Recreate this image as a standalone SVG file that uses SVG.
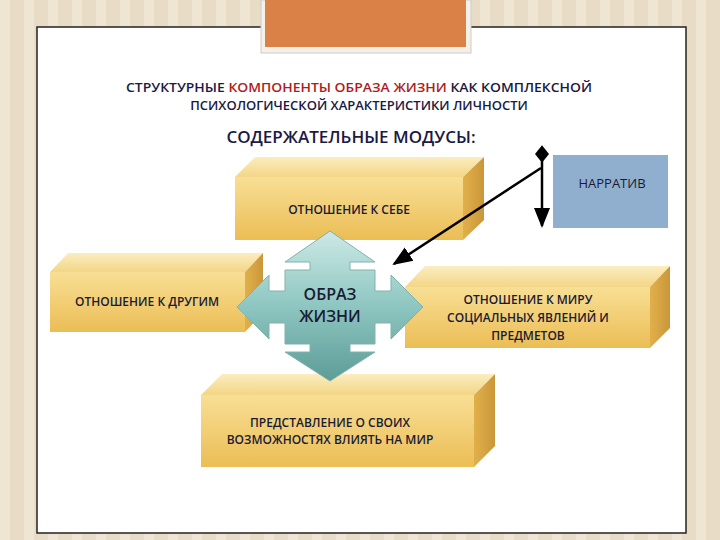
<svg xmlns="http://www.w3.org/2000/svg" width="720" height="540" viewBox="0 0 720 540">
<defs>
<pattern id="stripes" width="24" height="10" patternUnits="userSpaceOnUse"><rect width="24" height="10" fill="#e9dcc6"/><rect width="10" height="10" fill="#efe5d3"/></pattern>
<linearGradient id="front" x1="0" y1="0" x2="0" y2="1"><stop offset="0" stop-color="#f8df95"/><stop offset="1" stop-color="#ebbd55"/></linearGradient>
<linearGradient id="topf" x1="0" y1="0" x2="0" y2="1"><stop offset="0" stop-color="#fbedc0"/><stop offset="1" stop-color="#f3d685"/></linearGradient>
<linearGradient id="side" x1="0" y1="0" x2="1" y2="0"><stop offset="0" stop-color="#e2b04a"/><stop offset="1" stop-color="#c9973a"/></linearGradient>
<linearGradient id="teal" x1="0" y1="0" x2="0" y2="1"><stop offset="0" stop-color="#cde9e6"/><stop offset="0.5" stop-color="#8ec6c1"/><stop offset="1" stop-color="#5d9c97"/></linearGradient>
<marker id="ah" viewBox="0 0 10 10" refX="9" refY="5" markerWidth="8" markerHeight="8" orient="auto"><path d="M0,1 L10,5 L0,9 Z" fill="#000"/></marker>
<marker id="dm" viewBox="0 0 10 10" refX="5" refY="5" markerWidth="7" markerHeight="7" orient="auto"><path d="M0,5 L5,1 L10,5 L5,9 Z" fill="#000"/></marker>
<style>
.f{fill:url(#front)}.t{fill:url(#topf)}.s{fill:url(#side)}
.lb{font-family:"Open Sans","Noto Sans",sans-serif;font-weight:600;font-size:12px;fill:#1a1a33;text-anchor:middle}
</style>
</defs>
<rect width="720" height="540" fill="url(#stripes)"/>
<rect x="37" y="27" width="649" height="506" fill="#fff" stroke="#222" stroke-width="1.5"/>
<rect x="261" y="0" width="210" height="53" fill="#f4f0e6" stroke="#ccc"/>
<rect x="265" y="0" width="201" height="47" fill="#d98147"/>
<g id="title" font-family="'Open Sans','Noto Sans',sans-serif" font-weight="600" font-size="13" fill="#1a1a44" text-anchor="middle">
<text x="359" y="92" textLength="466" lengthAdjust="spacingAndGlyphs">СТРУКТУРНЫЕ <tspan fill="#b01c1c">КОМПОНЕНТЫ ОБРАЗА ЖИЗНИ</tspan> КАК КОМПЛЕКСНОЙ</text>
<text x="359" y="110">ПСИХОЛОГИЧЕСКОЙ ХАРАКТЕРИСТИКИ ЛИЧНОСТИ</text>
<text x="351" y="143" font-size="17">СОДЕРЖАТЕЛЬНЫЕ МОДУСЫ:</text>
</g>
<g id="self">
<polygon class="t" points="235,177 255,157 484,157 463,177"/>
<polygon class="s" points="463,177 484,157 484,220 463,240"/>
<rect class="f" x="235" y="177" width="228" height="63"/>
<text class="lb" x="349" y="214">ОТНОШЕНИЕ К СЕБЕ</text>
</g>
<g id="others">
<polygon class="t" points="50,272 68,253 263,253 245,272"/>
<polygon class="s" points="245,272 263,253 263,313 245,332"/>
<rect class="f" x="50" y="272" width="195" height="60"/>
<text class="lb" x="147" y="306">ОТНОШЕНИЕ К ДРУГИМ</text>
</g>
<g id="world">
<polygon class="t" points="405,287 425,266 670,266 650,287"/>
<polygon class="s" points="650,287 670,266 670,328 650,348"/>
<rect class="f" x="405" y="287" width="245" height="61"/>
<text class="lb" x="528" y="304">ОТНОШЕНИЕ К МИРУ</text>
<text class="lb" x="528" y="322">СОЦИАЛЬНЫХ ЯВЛЕНИЙ И</text>
<text class="lb" x="528" y="340">ПРЕДМЕТОВ</text>
</g>
<g id="ability">
<polygon class="t" points="201,395 222,374 495,374 474,395"/>
<polygon class="s" points="474,395 495,374 495,446 474,467"/>
<rect class="f" x="201" y="395" width="273" height="72"/>
<text class="lb" x="330" y="427">ПРЕДСТАВЛЕНИЕ О СВОИХ</text>
<text class="lb" x="330" y="444">ВОЗМОЖНОСТЯХ ВЛИЯТЬ НА МИР</text>
</g>
<g id="narrative">
<rect x="553" y="155" width="115" height="73" fill="#90afcf"/>
<text x="612" y="188" font-family="'Open Sans','Noto Sans',sans-serif" font-size="13" fill="#1a1a33" text-anchor="middle">НАРРАТИВ</text>
</g>
<g id="lifestyle">
<polygon fill="url(#teal)" stroke="#7fb3ae" stroke-width="1" points="330,231 375,262 350,262 350,270 375,270 375,291 391,291 391,275 423,307 391,339 391,323 375,323 375,344 350,344 350,352 375,352 330,381 285,352 310,352 310,344 285,344 285,323 269,323 269,339 237,307 269,275 269,291 285,291 285,270 310,270 310,262 285,262"/>
<text x="330" y="300" font-family="'Open Sans','Noto Sans',sans-serif" font-weight="600" font-size="16" fill="#1a1a33" text-anchor="middle">ОБРАЗ</text>
<text x="330" y="322" font-family="'Open Sans','Noto Sans',sans-serif" font-weight="600" font-size="16" fill="#1a1a33" text-anchor="middle">ЖИЗНИ</text>
</g>
<g id="connectors" stroke="#000" stroke-width="2.5" fill="none">
<line x1="542" y1="154" x2="542" y2="226" marker-start="url(#dm)" marker-end="url(#ah)"/>
<line x1="541" y1="168" x2="394" y2="264" marker-end="url(#ah)"/>
</g>
</svg>
